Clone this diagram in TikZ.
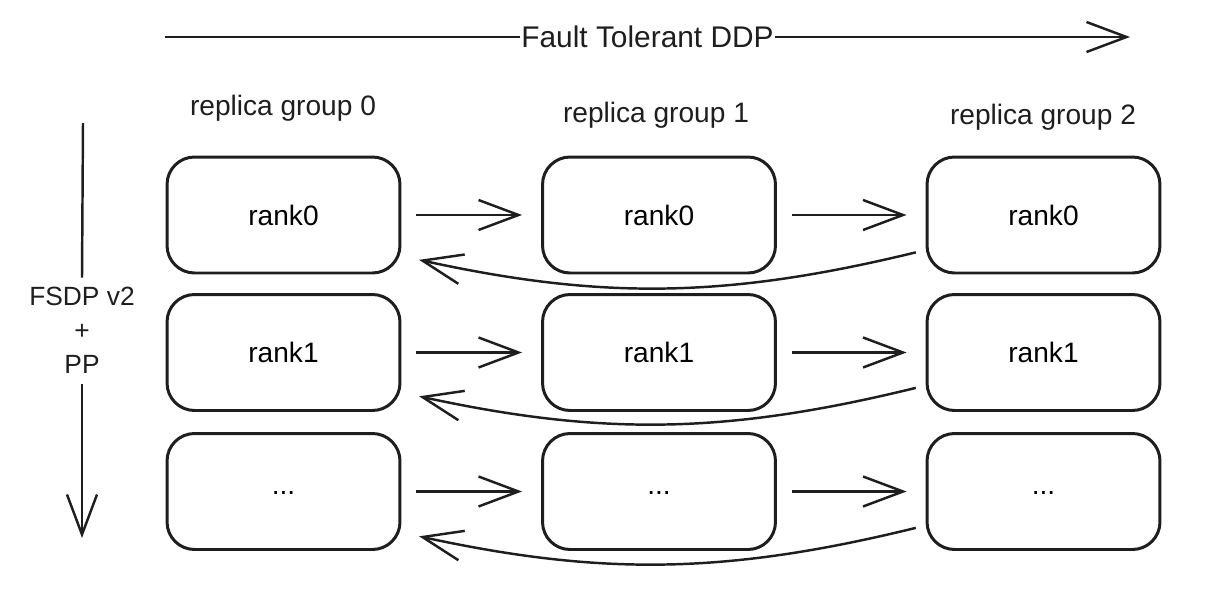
\documentclass[tikz,border=0pt]{standalone}
\usepackage{fontspec}
\setmainfont{Liberation Sans}
\usepackage{xcolor}
\usetikzlibrary{arrows.meta}

\definecolor{inkgray}{HTML}{1E1E1E}

\begin{document}
\begin{tikzpicture}[
    x=0.02cm,
    y=-0.02cm,
    rankbox/.style={
        draw=inkgray,
        line width=1.7pt,
        rounded corners=0.55cm,
        minimum width=4.66cm,
        minimum height=2.32cm,
        font=\fontsize{16}{19}\selectfont
    },
    grouplabel/.style={
        font=\fontsize{16}{19}\selectfont,
        text=inkgray
    },
    sendline/.style={
        draw=inkgray,
        line width=1.4pt,
        -{Straight Barb[length=0.8cm,width=0.6cm]}
    },
    forwardline/.style={
        sendline,
        shorten <=0.3cm,
        shorten >=0.38cm
    },
    backline/.style={
        sendline,
        shorten <=0.2cm,
        shorten >=0.36cm
    }
]

\useasboundingbox (0,0) rectangle (1224,589);

% DDP axis
\coordinate (ddpstart) at (165,37);
\coordinate (ddpend) at (1130,37);
\draw[sendline] (ddpstart) -- node[fill=white,inner sep=1pt,
    font=\fontsize{17}{20}\selectfont,text=inkgray] (ddplabel)
    {Fault Tolerant DDP} (ddpend);

% FSDP + PP axis
\coordinate (fsdptop) at (83,123);
\coordinate (fsdpbottom) at (82,538);
\node[grouplabel,align=center,font=\fontsize{15}{19.3}\selectfont,
    inner sep=0pt] (fsdplabel) at (82,330)
{FSDP v2\\+\\PP};
\draw[draw=inkgray,line width=1.4pt] (fsdptop) -- ([yshift=0.18cm]fsdplabel.north);
\draw[sendline] ([yshift=-0.22cm]fsdplabel.south) -- (fsdpbottom);

% replica groups
\node[grouplabel] (group0) at (283,108) {replica group 0};
\node[grouplabel] (group1) at (656,115) {replica group 1};
\node[grouplabel] (group2) at (1043,117) {replica group 2};

\node[rankbox] (rankA0) at (283.5,215) {rank0};
\node[rankbox] (rankB0) at (659,215) {rank0};
\node[rankbox] (rankC0) at (1043.5,215) {rank0};

\node[rankbox] (rankA1) at (283.5,352.5) {rank1};
\node[rankbox] (rankB1) at (659,352.5) {rank1};
\node[rankbox] (rankC1) at (1043.5,352.5) {rank1};

\node[rankbox] (rankA2) at (283.5,491.5) {\raisebox{-0.12cm}{...}};
\node[rankbox] (rankB2) at (659,491.5) {\raisebox{-0.12cm}{...}};
\node[rankbox] (rankC2) at (1043.5,491.5) {\raisebox{-0.12cm}{...}};

% ring between groups
\draw[forwardline] (rankA0.east) -- (rankB0.west);
\draw[forwardline] (rankB0.east) -- (rankC0.west);
\draw[backline] ([yshift=-0.7cm]rankC0.west) to[bend left=13]
    ([yshift=-0.82cm]rankA0.east);

\draw[forwardline] (rankA1.east) -- (rankB1.west);
\draw[forwardline] (rankB1.east) -- (rankC1.west);
\draw[backline] ([yshift=-0.66cm]rankC1.west) to[bend left=13]
    ([yshift=-0.8cm]rankA1.east);

\draw[forwardline] (rankA2.east) -- (rankB2.west);
\draw[forwardline] (rankB2.east) -- (rankC2.west);
\draw[backline] ([yshift=-0.68cm]rankC2.west) to[bend left=13]
    ([yshift=-0.82cm]rankA2.east);

\end{tikzpicture}
\end{document}
